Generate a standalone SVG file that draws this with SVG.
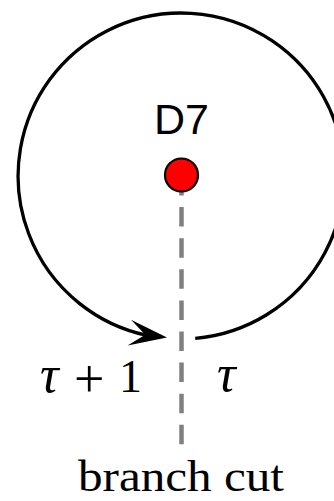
<svg xmlns="http://www.w3.org/2000/svg" width="334" height="501" viewBox="0 0 334 501">
<style>
.loop{fill:none;stroke:#000;stroke-width:3.3}
.cut{fill:none;stroke:#808080;stroke-width:4.5;stroke-dasharray:19.5 11.6}
.serif{font-family:"Liberation Serif","Times New Roman",serif;font-size:44px;fill:#000}
.it{font-style:italic;font-size:52px}
.sans{font-family:"Liberation Sans",Arial,sans-serif;font-size:43px;fill:#000}
</style>
<rect width="334" height="501" fill="#fff"/>
<g id="connectors">
<line id="branch-cut-line" class="cut" x1="181.5" y1="176" x2="181.5" y2="444.5"/>
<path id="loop" class="loop" d="M195.2 338.4 A163 163 0 1 0 147 335.4"/>
<polygon id="loop-arrowhead" points="167,337.6 131,319.7 145.2,334.7 127.6,345.5" fill="#000"/>
</g>
<g id="D7">
<circle cx="181.5" cy="175" r="16.5" fill="#ff0000" stroke="#000" stroke-width="2.2"/>
<text class="sans" x="181.5" y="134" text-anchor="middle">D7</text>
</g>
<g id="labels">
<text class="serif" y="392"><tspan class="it" x="40">τ</tspan><tspan x="74" y="397" font-size="54">+</tspan><tspan x="119" y="392" font-size="46">1</tspan></text>
<text class="serif it" x="217" y="391">τ</text>
<text class="serif" x="181" y="491" text-anchor="middle" textLength="206" lengthAdjust="spacingAndGlyphs">branch cut</text>
</g>
</svg>
